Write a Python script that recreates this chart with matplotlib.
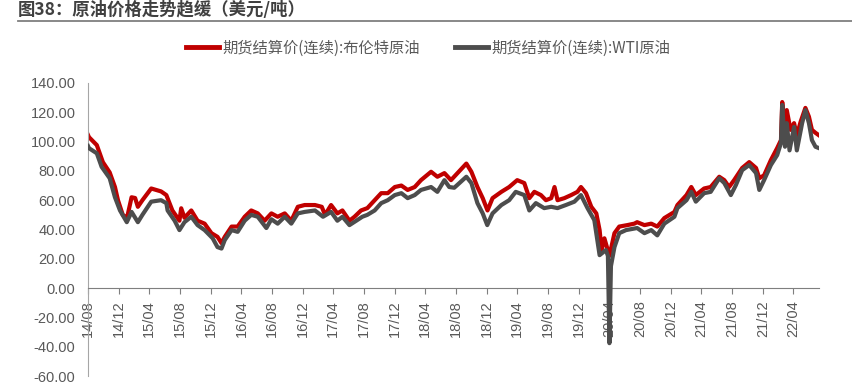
"""
plot.py

Brent vs WTI continuous futures settlement prices, 2014/08 - 2022/07.
"""
import pandas as pd
import matplotlib
matplotlib.use("Agg")
from matplotlib import pyplot as plt
from matplotlib import ticker
from matplotlib.lines import Line2D

plt.rcParams["axes.unicode_minus"] = False

title = "图38：原油价格走势趋缓（美元/吨）"
brent_label = "期货结算价(连续):布伦特原油"
wti_label = "期货结算价(连续):WTI原油"

# values
brent_dates = [
    "2014-08-01", "2014-08-05", "2014-09-05", "2014-09-29", "2014-10-26", "2014-11-16",
    "2014-11-28", "2014-12-17", "2015-01-03", "2015-01-21", "2015-02-04", "2015-02-15",
    "2015-03-05", "2015-04-09", "2015-05-18", "2015-06-08", "2015-07-02", "2015-07-30",
    "2015-08-06", "2015-08-19", "2015-09-15", "2015-10-10", "2015-11-07", "2015-12-04",
    "2015-12-28", "2016-01-13", "2016-01-26", "2016-02-22", "2016-03-17", "2016-04-14",
    "2016-05-10", "2016-06-05", "2016-07-02", "2016-07-29", "2016-08-23", "2016-09-20",
    "2016-10-16", "2016-11-11", "2016-12-08", "2017-01-18", "2017-02-14", "2017-02-27",
    "2017-03-23", "2017-04-17", "2017-05-07", "2017-06-04", "2017-06-24", "2017-07-20",
    "2017-08-14", "2017-09-12", "2017-10-08", "2017-11-03", "2017-12-01", "2017-12-27",
    "2018-01-21", "2018-02-18", "2018-03-15", "2018-04-24", "2018-05-19", "2018-06-16",
    "2018-07-12", "2018-08-07", "2018-09-11", "2018-10-01", "2018-10-25", "2018-11-15",
    "2018-12-04", "2018-12-24", "2019-01-28", "2019-02-28", "2019-04-01", "2019-04-29",
    "2019-05-19", "2019-06-08", "2019-07-04", "2019-07-24", "2019-08-14", "2019-08-27",
    "2019-09-08", "2019-10-05", "2019-11-01", "2019-11-26", "2019-12-10", "2019-12-30",
    "2020-01-20", "2020-02-09", "2020-02-22", "2020-03-01", "2020-03-12", "2020-04-01",
    "2020-04-21", "2020-05-10", "2020-06-11", "2020-07-09", "2020-07-20", "2020-08-18",
    "2020-09-14", "2020-10-08", "2020-11-05", "2020-12-15", "2020-12-27", "2021-02-01",
    "2021-02-20", "2021-03-10", "2021-04-12", "2021-05-08", "2021-06-11", "2021-07-01",
    "2021-07-20", "2021-08-09", "2021-09-10", "2021-10-08", "2021-11-04", "2021-11-17",
    "2021-12-06", "2022-01-02", "2022-01-27", "2022-02-11", "2022-02-16", "2022-02-27",
    "2022-03-06", "2022-03-21", "2022-04-04", "2022-04-15", "2022-04-30", "2022-05-19",
    "2022-06-02", "2022-06-14", "2022-06-28", "2022-07-11",
]
brent_values = [
    104.5, 103.0, 97.6, 86.0, 79.0, 69.0,
    60.0, 50.0, 48.0, 62.0, 61.5, 55.5,
    60.0, 68.0, 66.0, 63.5, 53.0, 46.0,
    54.5, 48.0, 53.0, 46.0, 44.0, 37.5,
    35.0, 30.7, 35.0, 42.0, 42.0, 48.7,
    53.0, 51.0, 46.0, 51.0, 48.7, 51.0,
    46.0, 55.5, 56.7, 56.7, 55.5, 50.0,
    56.7, 51.0, 53.0, 46.0, 48.7, 53.0,
    54.6, 60.0, 64.8, 64.8, 69.0, 70.0,
    67.0, 69.0, 73.7, 79.4, 76.0, 78.5,
    73.7, 78.5, 85.0, 79.4, 69.0, 61.4,
    53.0, 61.4, 65.7, 69.0, 73.7, 71.7,
    61.4, 65.7, 63.5, 60.0, 61.4, 69.0,
    60.0, 61.4, 63.5, 65.7, 69.0, 64.8,
    55.5, 51.0, 39.6, 26.0, 34.0, 22.0,
    37.5, 42.0, 43.0, 44.0, 45.0, 43.0,
    44.0, 42.0, 47.8, 52.0, 56.7, 63.5,
    69.0, 63.5, 68.0, 69.0, 76.0, 73.7,
    69.0, 73.7, 82.0, 86.0, 82.0, 75.0,
    77.0, 87.4, 95.6, 101.0, 127.0, 110.0,
    121.5, 108.0, 112.6, 104.4, 113.5, 123.0,
    117.0, 108.0, 106.0, 104.4,
]

wti_dates = [
    "2014-08-01", "2014-08-05", "2014-09-05", "2014-09-24", "2014-10-26", "2014-11-16",
    "2014-12-06", "2015-01-02", "2015-01-21", "2015-02-15", "2015-03-05", "2015-04-09",
    "2015-05-18", "2015-06-08", "2015-06-13", "2015-07-11", "2015-07-30", "2015-08-19",
    "2015-09-15", "2015-10-10", "2015-11-07", "2015-12-09", "2015-12-28", "2016-01-13",
    "2016-01-26", "2016-02-22", "2016-03-17", "2016-04-14", "2016-05-10", "2016-06-05",
    "2016-07-09", "2016-07-29", "2016-08-23", "2016-09-20", "2016-10-16", "2016-11-11",
    "2016-12-08", "2017-01-18", "2017-02-19", "2017-03-23", "2017-04-17", "2017-05-07",
    "2017-06-04", "2017-07-01", "2017-07-25", "2017-08-14", "2017-09-12", "2017-10-08",
    "2017-11-03", "2017-12-01", "2017-12-27", "2018-01-21", "2018-02-18", "2018-03-15",
    "2018-04-24", "2018-05-19", "2018-06-16", "2018-07-05", "2018-07-25", "2018-09-11",
    "2018-10-01", "2018-10-25", "2018-11-15", "2018-12-03", "2018-12-24", "2019-01-28",
    "2019-02-28", "2019-03-26", "2019-04-29", "2019-05-19", "2019-06-14", "2019-07-17",
    "2019-08-14", "2019-09-08", "2019-10-11", "2019-11-14", "2019-12-10", "2020-01-05",
    "2020-02-01", "2020-02-22", "2020-03-18", "2020-03-26", "2020-04-01", "2020-04-07",
    "2020-04-21", "2020-05-10", "2020-06-06", "2020-07-20", "2020-08-18", "2020-09-14",
    "2020-10-08", "2020-11-05", "2020-12-15", "2020-12-27", "2021-02-01", "2021-02-20",
    "2021-03-10", "2021-04-12", "2021-05-08", "2021-06-11", "2021-07-01", "2021-07-27",
    "2021-08-16", "2021-09-10", "2021-10-08", "2021-11-04", "2021-11-17", "2021-12-06",
    "2022-01-02", "2022-01-27", "2022-02-11", "2022-02-16", "2022-02-27", "2022-03-06",
    "2022-03-17", "2022-04-04", "2022-04-15", "2022-05-06", "2022-05-19", "2022-06-02",
    "2022-06-14", "2022-06-28", "2022-07-11",
]
wti_values = [
    97.0, 95.5, 92.0, 82.8, 75.0, 62.0,
    53.0, 45.0, 52.0, 45.0, 50.0, 59.0,
    60.0, 58.0, 53.0, 46.0, 39.6, 45.0,
    48.7, 43.0, 39.6, 34.0, 28.0, 27.0,
    32.8, 39.6, 38.4, 46.0, 50.0, 48.7,
    41.0, 47.0, 44.0, 48.7, 44.0, 51.0,
    52.0, 53.0, 48.7, 52.0, 46.0, 48.7,
    43.0, 46.0, 48.7, 50.0, 53.0, 58.0,
    60.0, 63.5, 64.8, 61.4, 63.5, 67.0,
    69.0, 65.7, 73.7, 69.0, 68.5, 76.0,
    71.7, 58.0, 51.0, 43.0, 51.0, 56.7,
    60.0, 65.7, 63.5, 53.0, 58.0, 54.6,
    55.5, 54.6, 56.7, 59.0, 63.5, 54.6,
    46.4, 22.5, 26.0, 22.0, -37.6, 15.0,
    28.0, 37.5, 39.6, 41.0, 37.5, 39.6,
    36.0, 44.0, 48.7, 54.6, 60.0, 65.7,
    59.0, 64.8, 65.7, 75.0, 71.7, 63.5,
    70.3, 80.5, 84.0, 78.5, 67.0, 73.7,
    84.0, 90.8, 99.0, 125.0, 96.5, 112.6,
    94.0, 110.0, 94.0, 112.6, 121.5, 112.6,
    101.0, 96.5, 95.6,
]

tick_dates = pd.date_range("2014-08-01", "2022-04-01", freq="4MS")
tick_labels = [d.strftime("%y/%m") for d in tick_dates]
y_ticks = list(range(-60, 141, 20))

RED = "#C00000"
GRAY = "#4D4D4D"
TEXT = "#595959"
CJK = ["Noto Sans CJK SC", "DejaVu Sans"]

fig = plt.figure(figsize=(8.52, 3.91), dpi=100)
ax = fig.add_axes([88 / 852, 1 - 376 / 391, (819 - 88) / 852, (376 - 83) / 391])

ax.plot(pd.to_datetime(brent_dates), brent_values, color=RED, lw=3.0,
        solid_joinstyle="round", label=brent_label, zorder=2)
ax.plot(pd.to_datetime(wti_dates), wti_values, color=GRAY, lw=3.0,
        solid_joinstyle="round", label=wti_label, zorder=3)

ax.set_xlim(pd.Timestamp("2014-08-01"), pd.Timestamp("2022-07-12"))
ax.set_ylim(-60, 140)
ax.set_yticks(y_ticks)
ax.yaxis.set_major_formatter(ticker.FuncFormatter(lambda v, pos: f"{v:.2f}"))
ax.set_xticks(tick_dates)
ax.set_xticklabels(tick_labels)

for side in ["top", "right"]:
    ax.spines[side].set_visible(False)
ax.spines["bottom"].set_position(("data", 0))
ax.spines["bottom"].set_color("#7f7f7f")
ax.spines["left"].set_color("#a6a6a6")
ax.tick_params(axis="y", length=0, pad=9, labelsize=10.5, labelcolor=TEXT)
ax.tick_params(axis="x", length=4, direction="out", color="#7f7f7f",
               pad=5, labelsize=10.5, labelcolor=TEXT, labelrotation=90)
for lbl in ax.get_xticklabels() + ax.get_yticklabels():
    lbl.set_family(["Liberation Sans", "DejaVu Sans"])

leg = ax.legend(loc="center", bbox_to_anchor=(428 / 852, 1 - 48 / 391),
                bbox_transform=fig.transFigure, ncol=2, frameon=False,
                handlelength=2.2, handletextpad=0.2, columnspacing=2.3,
                prop={"family": CJK, "size": 11})
for line in leg.get_lines():
    line.set_linewidth(3.5)
for txt in leg.get_texts():
    txt.set_color(TEXT)

fig.text(18 / 852, 1 - 10 / 391, title, fontsize=12.5, fontweight="bold",
         color="#404040", family=CJK, va="center", ha="left")
fig.add_artist(Line2D([18 / 852, 1.0], [1 - 21 / 391] * 2,
                      color="#7f7f7f", lw=1.3))

fig.savefig("out.png", dpi=100)
